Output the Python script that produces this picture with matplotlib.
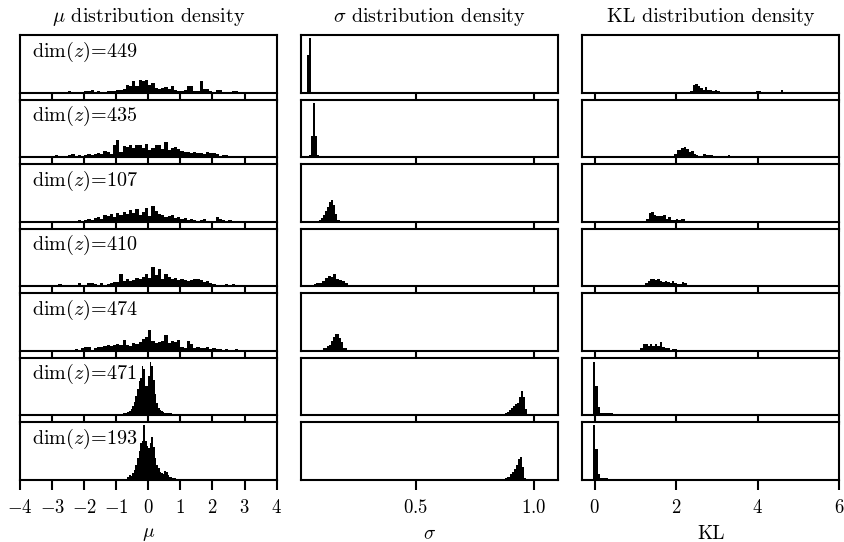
import numpy as np
import matplotlib
matplotlib.use("Agg")
import matplotlib.pyplot as plt

plt.rcParams['font.family'] = 'serif'
plt.rcParams['font.serif'] = ['cmr10']
plt.rcParams['mathtext.fontset'] = 'cm'
plt.rcParams['axes.formatter.use_mathtext'] = True

# latent dims shown in each row
dims = [449, 435, 107, 410, 474, 471, 193]

# mu histograms (density, arbitrary units), bins start/width per row
mu_start = [-4.0, -4.0, -4.0, -4.0, -4.0, -1.0, -1.0]
mu_width = [0.1, 0.1, 0.1, 0.1, 0.1, 0.05, 0.05]
mu_449 = [0, 1, 1, 1, 0, 0, 0, 0, 0, 1,
          1, 1, 0, 0, 1, 2, 1, 1, 1, 1,
          2, 2, 3, 1, 2, 1, 1, 2, 2, 2,
          3, 3, 4, 8, 7, 12, 7, 13, 12, 13,
          8, 10, 5, 4, 5, 6, 4, 7, 3, 2,
          2, 3, 7, 7, 2, 2, 12, 4, 4, 2,
          1, 3, 3, 1, 1, 1, 2, 2, 1, 0,
          1, 1, 1, 0, 1, 1, 1, 0, 0, 0]
mu_435 = [0, 0, 0, 0, 0, 1, 1, 1, 0, 1,
          1, 2, 1, 1, 0, 2, 3, 1, 2, 1,
          2, 3, 2, 3, 4, 3, 6, 5, 3, 12,
          18, 5, 11, 10, 12, 9, 13, 12, 9, 14,
          7, 9, 13, 12, 8, 16, 7, 9, 10, 8,
          6, 5, 5, 4, 5, 4, 4, 3, 5, 4,
          4, 3, 1, 2, 2, 1, 1, 1, 1, 0,
          0, 0, 0, 0, 0, 0, 0, 0, 0, 0]
mu_107 = [0, 0, 0, 0, 0, 0, 0, 0, 0, 0,
          0, 1, 1, 1, 0, 0, 1, 1, 2, 1,
          2, 3, 2, 4, 5, 3, 7, 6, 8, 5,
          9, 7, 10, 8, 12, 9, 13, 7, 10, 14,
          6, 16, 11, 8, 7, 5, 6, 7, 4, 5,
          3, 4, 2, 3, 2, 1, 2, 3, 1, 1,
          1, 5, 3, 2, 1, 2, 1, 1, 0, 1,
          1, 0, 1, 0, 0, 1, 1, 0, 0, 0]
mu_410 = [0, 0, 0, 0, 0, 0, 0, 1, 1, 0,
          0, 1, 2, 0, 0, 1, 1, 1, 3, 1,
          1, 3, 3, 2, 1, 3, 1, 2, 3, 4,
          4, 13, 5, 8, 5, 6, 9, 7, 10, 13,
          9, 20, 12, 18, 8, 13, 10, 7, 9, 6,
          7, 6, 5, 6, 7, 8, 6, 4, 5, 3,
          2, 1, 0, 0, 2, 1, 2, 0, 1, 0,
          0, 0, 0, 0, 0, 0, 0, 0, 0, 0]
mu_474 = [0, 0, 0, 0, 0, 0, 0, 0, 0, 1,
          0, 0, 0, 0, 1, 1, 1, 2, 1, 3,
          4, 4, 1, 3, 4, 4, 5, 6, 5, 6,
          7, 6, 11, 6, 5, 8, 7, 9, 12, 14,
          21, 10, 8, 9, 10, 16, 8, 10, 9, 11,
          4, 3, 10, 7, 3, 4, 3, 3, 4, 2,
          3, 2, 2, 1, 2, 1, 1, 2, 1, 1,
          1, 0, 0, 0, 1, 0, 1, 0, 0, 0]
mu_471 = [0, 1, 1, 1, 2, 2, 3, 4, 5,
          7, 10, 14, 20, 27,
          35, 38, 50, 47, 30,
          30, 40, 54, 50, 36,
          22, 13, 8, 6, 5,
          4, 3, 3, 2, 2,
          2, 1, 1, 1, 1, 1, 0, 1, 0, 1]
mu_193 = [0, 0, 0, 0, 1, 1, 1,
          3, 5, 4, 7, 10, 15,
          22, 30, 38, 40,
          56, 40, 35, 33, 38, 44, 34, 22, 15, 12, 8, 7, 6, 9, 8, 5, 3,
          3, 2, 2, 1, 1, 1, 1, 0, 1, 0]

# sigma histograms
sig_start = [0.025, 0.051, 0.092, 0.045, 0.099, 0.869, 0.880]
sig_width = [0.008, 0.008, 0.0087, 0.012, 0.0085, 0.0085, 0.0085]
sig_449 = [1, 1, 37, 54, 1]
sig_435 = [2, 21, 53, 21, 2, 1]
sig_107 = [2, 4, 7, 11, 15, 19, 21, 17, 8, 2]
sig_410 = [1, 1, 2, 3, 3, 5, 8, 10, 9, 12, 7, 6, 5, 3, 1]
sig_474 = [1, 3, 3, 5, 6, 10, 14, 17, 17, 13, 9, 3, 3]
sig_471 = [1, 2, 3, 5, 7, 9, 11, 12, 18, 24, 18, 6]
sig_193 = [2, 3, 6, 8, 11, 15, 21, 23, 13, 2]

# KL histograms
kl_start = [2.35, 1.95, 1.27, 1.24, 1.12, -0.04, -0.04]
kl_width = [0.06, 0.06, 0.06, 0.06, 0.06, 0.06, 0.06]
kl_449 = [2, 8, 9, 7, 5, 3, 6, 3, 3, 2,
          3, 2, 1, 1, 1, 0, 1, 1, 0, 0,
          0, 0, 1, 0, 1, 1, 0, 2, 2, 1,
          0, 0, 0, 0, 0, 0, 0, 3, 0, 0,
          0, 1, 0]
kl_435 = [3, 7, 7, 9, 10, 8, 5, 6, 3, 2,
          1, 1, 3, 2, 2, 2, 1, 1, 1, 1,
          1, 1, 2, 1, 0, 1, 0, 0, 1, 0,
          0, 0, 0, 0, 0, 0, 0, 1, 0, 0,
          0, 0, 0, 0, 0, 0, 0, 0, 0, 0,
          1]
kl_107 = [3, 9, 10, 7, 6, 6, 6, 7, 3, 5,
          2, 2, 3, 2, 3, 3, 1, 1, 1, 0,
          1, 1, 1, 1, 1, 0, 1, 0, 0, 1,
          0, 0, 1, 0, 0, 0, 1,
          0, 0.3, 0, 0, 0.3, 0, 0.3, 0, 0, 0.3,
          0, 0.3, 0, 0, 0.3, 0, 0, 0.3, 0, 0.3,
          0, 0, 0.3, 0, 0, 0.3, 0, 0.3, 0, 0,
          0.3, 0, 0, 0.3, 0, 0.3, 0, 0, 0.3]
kl_410 = [3, 5, 8, 8, 6, 7, 5, 4, 5, 4,
          3, 5, 3, 2, 2, 4, 3, 1, 1, 1,
          1, 1, 0, 1, 1, 0, 1, 0, 0, 0,
          1, 0, 0, 0, 1, 0, 0, 1, 0, 0,
          0, 1, 0, 0]
kl_474 = [3, 7, 7, 5, 7, 5, 7, 5, 9, 4,
          3, 3, 1, 2, 2, 1, 1, 1, 0, 1,
          1, 1, 1, 0, 1, 1, 0, 1, 1, 0,
          1, 0, 1, 1, 0, 0, 0, 0, 0, 0,
          0, 0, 0, 0, 0, 0, 0, 0, 0, 0,
          0, 1]
kl_471 = [54, 30, 9, 3, 3, 3, 3, 2]
kl_193 = [56, 32, 6, 2, 2, 2, 1]

mu_h = [mu_449, mu_435, mu_107, mu_410, mu_474, mu_471, mu_193]
sig_h = [sig_449, sig_435, sig_107, sig_410, sig_474, sig_471, sig_193]
kl_h = [kl_449, kl_435, kl_107, kl_410, kl_474, kl_471, kl_193]

fig, axes = plt.subplots(7, 3, figsize=(8.44, 5.42), dpi=100,
                         sharex='col', sharey='col')
fig.subplots_adjust(left=20/844, right=839/844, top=1-35/542,
                    bottom=1-480/542, hspace=0.118, wspace=0.096)


def draw(ax, heights, start, width):
    h = np.array(heights, dtype=float)
    edges = start + width*np.arange(len(h)+1)
    ax.stairs(h, edges, fill=True, color='black', linewidth=0)


for r in range(7):
    draw(axes[r, 0], mu_h[r], mu_start[r], mu_width[r])
    draw(axes[r, 1], sig_h[r], sig_start[r], sig_width[r])
    draw(axes[r, 2], kl_h[r], kl_start[r], kl_width[r])
    axes[r, 0].text(0.045, 0.92, r'$\mathrm{dim}(z)$=%d' % dims[r],
                    transform=axes[r, 0].transAxes, va='top', ha='left',
                    fontsize=14.5)
    for ax in axes[r]:
        ax.set_yticks([])
        for s in ax.spines.values():
            s.set_linewidth(1.5)
        ax.tick_params(axis='x', direction='out', length=7.5, width=1.5,
                       labelsize=13.5, pad=6)

axes[0, 0].set_xlim(-4, 4)
axes[0, 0].set_xticks(np.arange(-4, 5, 1))
axes[0, 1].set_xlim(0.017, 1.101)
axes[0, 1].set_xticks([0.5, 1.0])
axes[0, 2].set_xlim(-0.3, 6.0)
axes[0, 2].set_xticks([0, 2, 4, 6])

axes[0, 0].set_title(r'$\mu$ distribution density', fontsize=14.5, pad=9)
axes[0, 1].set_title(r'$\sigma$ distribution density', fontsize=14.5, pad=9)
axes[0, 2].set_title('KL distribution density', fontsize=14.5, pad=9)
axes[6, 0].set_xlabel(r'$\mu$', fontsize=14, labelpad=6)
axes[6, 1].set_xlabel(r'$\sigma$', fontsize=14, labelpad=6)
axes[6, 2].set_xlabel('KL', fontsize=14, labelpad=6)

plt.savefig('out.png', dpi=100)
